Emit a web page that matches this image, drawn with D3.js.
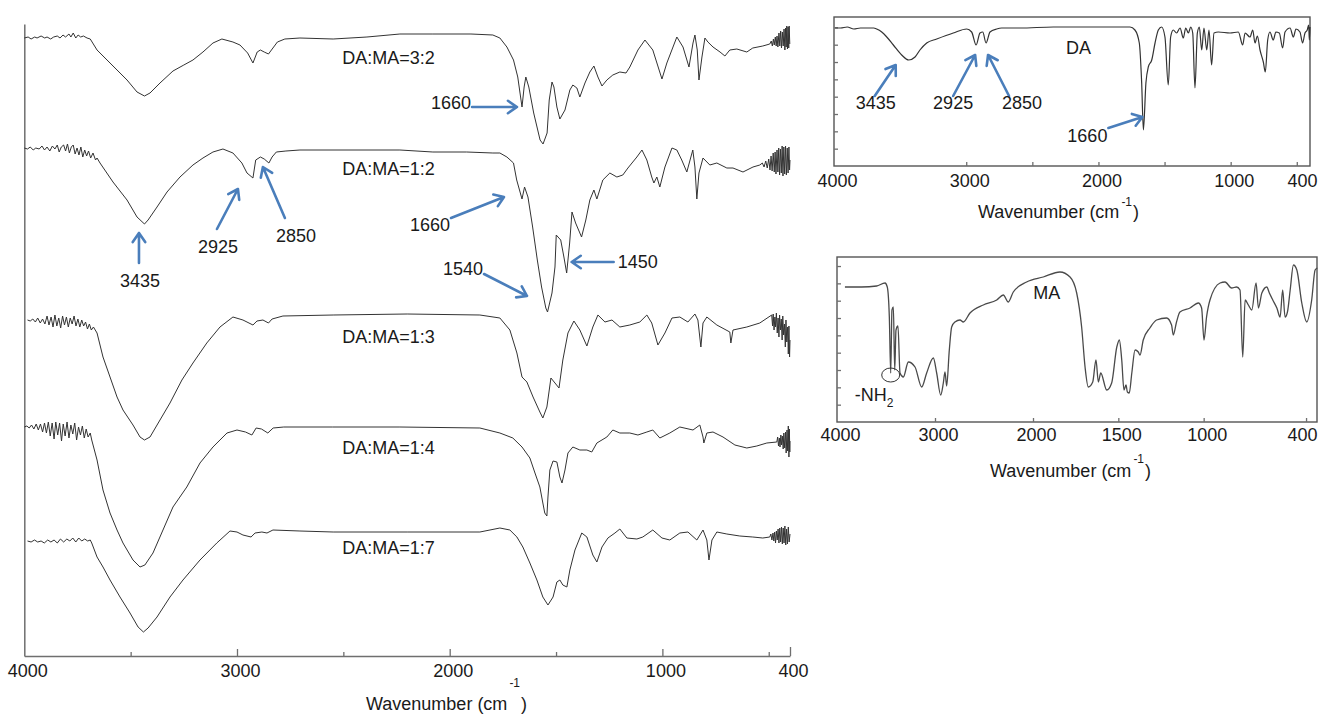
<!DOCTYPE html>
<html>
<head>
<meta charset="utf-8">
<script src="https://cdn.jsdelivr.net/npm/d3@7"></script>
<style>
  body { margin: 0; background: #fff; }
  svg { display: block; }
  text { font-family: "Liberation Sans", Arial, sans-serif; }
</style>
</head>
<body>
<svg id="chart" width="1318" height="714"></svg>
<script>
// ---------------- data: FTIR spectra, [wavenumber (cm-1), transmittance (a.u., stacked)] ----------------
const seriesNames = ["DA:MA=3:2", "DA:MA=1:2", "DA:MA=1:3", "DA:MA=1:4", "DA:MA=1:7"];

const ratio32 = [[4000,61.8],[3982,61.9],[3968,61.7],[3951,61.9],[3940,61.8],[3921,62.0],[3904,61.8],[3893,61.9],[3876,61.7],[3862,61.9],[3845,62.0],[3832,61.8],[3818,62.1],[3806,61.9],[3790,62.2],[3781,61.9],[3770,62.3],[3758,61.8],[3747,62.1],[3735,61.9],[3722,62.0],[3705,61.8],[3690,61.7],[3658,60.6],[3597,59.3],[3517,57.6],[3470,56.4],[3435,56.0],[3409,56.3],[3362,57.3],[3301,58.5],[3250,59.1],[3207,59.6],[3160,60.4],[3113,61.3],[3071,61.7],[3019,61.4],[2986,61.1],[2950,60.3],[2925,59.3],[2905,60.4],[2890,60.6],[2872,60.4],[2852,60.2],[2838,60.6],[2810,61.4],[2775,61.7],[2704,61.8],[2548,61.7],[2389,61.9],[2234,62.2],[2079,62.2],[1900,62.2],[1797,62.1],[1764,61.8],[1731,60.9],[1700,59.6],[1680,57.9],[1660,54.9],[1650,56.9],[1642,57.9],[1628,56.9],[1605,54.3],[1575,51.6],[1561,51.2],[1542,52.3],[1532,55.6],[1519,57.4],[1510,56.9],[1496,54.9],[1482,53.7],[1458,54.6],[1435,56.6],[1421,57.1],[1402,56.8],[1388,55.9],[1364,57.3],[1341,58.4],[1322,59.0],[1303,57.9],[1284,57.0],[1261,57.6],[1233,58.1],[1200,58.4],[1171,58.3],[1153,58.9],[1115,60.6],[1082,61.6],[1045,60.6],[1002,57.7],[979,59.3],[932,61.9],[903,60.9],[875,58.9],[856,61.3],[847,62.1],[836,60.6],[828,57.6],[814,59.9],[800,61.8],[786,61.4],[762,60.9],[729,60.4],[706,60.0],[683,60.6],[650,60.7],[603,60.4],[575,60.8],[528,61.0],[495,61.2],[488,61.5],[483,61.0],[478,61.7],[474,61.1],[469,61.9],[465,61.0],[461,62.0],[457,60.9],[452,62.3],[448,61.0],[444,62.5],[440,60.8],[436,62.4],[432,61.0],[428,62.7],[424,60.6],[421,62.8],[418,60.9],[415,63.0],[412,60.7],[409,62.9],[406,60.8],[404,63.0],[401,61.2]];

const ratio12 = [[4000,50.8],[3985,50.7],[3972,50.9],[3958,50.6],[3946,50.8],[3930,50.7],[3917,51.0],[3905,50.6],[3893,50.9],[3880,50.5],[3868,51.0],[3856,50.7],[3845,51.1],[3836,50.4],[3826,50.9],[3815,51.1],[3806,50.5],[3797,51.2],[3788,50.3],[3779,50.9],[3770,51.1],[3761,50.2],[3752,50.8],[3743,50.1],[3734,50.9],[3725,49.9],[3716,50.6],[3707,50.0],[3698,50.5],[3688,49.8],[3677,50.3],[3665,49.6],[3658,49.8],[3644,49.3],[3583,47.4],[3517,45.6],[3470,43.9],[3435,43.2],[3418,43.6],[3376,44.9],[3329,46.4],[3268,47.9],[3207,49.1],[3160,49.8],[3113,50.4],[3066,50.7],[3019,50.3],[2977,49.3],[2953,48.3],[2925,47.8],[2912,49.6],[2890,49.9],[2872,49.7],[2850,49.3],[2835,49.9],[2815,50.4],[2770,50.5],[2704,50.6],[2234,50.6],[2079,50.4],[1920,50.4],[1797,50.3],[1764,50.3],[1731,49.9],[1700,49.3],[1685,47.6],[1660,45.7],[1648,46.9],[1632,45.9],[1610,42.9],[1588,39.6],[1568,36.9],[1548,34.8],[1540,34.4],[1519,36.3],[1505,38.9],[1499,42.1],[1478,41.6],[1463,39.9],[1450,38.3],[1436,41.3],[1425,44.4],[1408,43.3],[1380,41.9],[1360,43.6],[1341,45.6],[1322,46.6],[1308,45.7],[1280,47.6],[1247,48.3],[1214,47.9],[1186,48.1],[1162,48.8],[1120,49.9],[1096,50.6],[1073,49.6],[1050,47.9],[1040,47.3],[1026,47.9],[1012,46.9],[988,48.9],[955,50.8],[932,50.6],[909,49.6],[885,48.4],[866,49.9],[857,50.6],[847,48.9],[838,45.7],[828,48.3],[809,49.8],[777,49.1],[744,49.3],[697,48.8],[668,48.8],[621,48.4],[574,48.9],[542,49.1],[530,49.3],[522,48.9],[514,49.5],[507,48.8],[500,49.7],[494,48.6],[489,50.0],[484,48.5],[479,50.3],[474,48.4],[470,50.4],[466,48.2],[461,50.6],[457,48.4],[453,50.8],[449,48.1],[445,50.7],[441,48.3],[437,51.0],[433,48.0],[429,50.9],[425,48.2],[421,51.0],[417,48.1],[413,50.8],[409,48.3],[405,50.9],[402,48.6],[400,49.6]];

const ratio13 = [[3985,33.6],[3972,33.5],[3960,33.7],[3948,33.4],[3937,33.8],[3925,33.3],[3914,33.7],[3903,33.2],[3893,34.0],[3884,33.1],[3874,33.9],[3865,32.9],[3856,34.1],[3847,33.0],[3838,33.8],[3829,32.8],[3820,34.0],[3811,33.1],[3802,33.9],[3793,32.9],[3784,33.8],[3775,33.2],[3766,34.0],[3757,33.0],[3748,33.7],[3739,32.9],[3730,33.6],[3721,33.0],[3712,33.4],[3703,32.7],[3694,33.2],[3685,32.6],[3675,32.9],[3658,32.3],[3630,29.9],[3597,27.9],[3564,25.9],[3536,24.6],[3489,23.1],[3456,21.9],[3435,21.6],[3409,21.9],[3362,23.6],[3315,25.3],[3259,27.6],[3207,29.3],[3142,31.3],[3080,32.9],[3019,33.9],[2972,33.6],[2925,33.1],[2906,33.5],[2878,33.6],[2852,33.3],[2835,33.7],[2784,34.0],[2548,34.1],[2200,34.2],[1858,34.1],[1764,33.8],[1717,32.6],[1684,30.3],[1660,27.9],[1637,27.4],[1608,25.9],[1576,24.4],[1562,23.8],[1543,24.9],[1524,27.8],[1505,27.3],[1486,26.8],[1468,29.6],[1444,32.3],[1416,33.5],[1388,32.6],[1355,31.0],[1327,32.9],[1303,34.1],[1270,33.4],[1237,33.6],[1200,32.9],[1153,33.1],[1106,33.4],[1073,34.1],[1050,33.3],[1021,31.1],[988,32.3],[955,33.8],[918,33.9],[880,33.4],[847,34.2],[833,33.6],[819,30.9],[809,33.3],[791,33.9],[744,33.1],[683,32.4],[678,31.3],[668,32.6],[603,32.9],[542,33.3],[486,34.1],[482,33.0],[479,34.2],[475,32.6],[471,33.9],[468,32.9],[464,34.3],[460,32.3],[456,33.8],[452,31.9],[449,34.1],[445,32.6],[441,33.7],[437,31.6],[434,34.0],[430,32.1],[426,33.2],[422,30.9],[419,33.6],[415,31.4],[411,32.9],[408,30.2],[405,33.0],[402,29.9],[400,31.6]];

const ratio14 = [[4000,22.9],[3988,23.0],[3977,22.8],[3966,23.1],[3955,22.7],[3944,23.2],[3934,22.6],[3924,23.2],[3914,22.4],[3905,23.3],[3896,22.3],[3887,23.4],[3878,22.0],[3869,23.3],[3860,21.7],[3852,23.4],[3843,22.1],[3834,23.3],[3825,21.5],[3817,23.2],[3808,22.0],[3799,23.4],[3790,21.8],[3781,23.1],[3772,22.2],[3763,23.3],[3754,21.6],[3745,22.9],[3736,22.1],[3727,23.0],[3718,21.8],[3709,22.7],[3700,21.9],[3690,22.3],[3683,21.6],[3658,19.6],[3630,16.6],[3597,14.3],[3564,12.6],[3536,11.3],[3489,9.6],[3456,8.9],[3433,9.1],[3395,10.3],[3348,12.6],[3301,14.9],[3236,16.9],[3174,19.3],[3113,20.9],[3047,22.3],[3000,22.6],[2960,22.4],[2930,22.1],[2910,22.8],[2885,22.7],[2855,22.3],[2830,22.8],[2780,22.9],[2550,22.9],[2234,22.9],[1858,22.8],[1764,22.3],[1703,21.8],[1660,20.9],[1623,19.8],[1599,18.3],[1576,16.9],[1562,15.3],[1553,14.3],[1543,14.0],[1538,15.9],[1529,18.6],[1514,19.5],[1496,19.4],[1482,17.9],[1472,17.3],[1458,18.6],[1444,20.3],[1421,20.9],[1388,20.6],[1355,20.6],[1332,20.4],[1308,21.3],[1261,21.9],[1233,22.6],[1200,22.3],[1153,22.3],[1115,22.1],[1073,22.4],[1045,22.6],[1012,21.8],[965,22.3],[918,22.9],[856,22.6],[824,23.1],[809,21.9],[805,21.3],[791,22.3],[762,22.4],[715,21.9],[659,21.1],[603,20.8],[556,21.0],[509,21.3],[462,21.4],[458,21.9],[454,21.0],[450,21.8],[447,20.9],[443,22.1],[440,21.1],[436,22.0],[432,20.7],[429,22.3],[425,20.8],[421,22.4],[418,20.3],[414,22.6],[411,20.5],[408,23.0],[405,19.9],[403,22.7],[401,20.4],[400,21.5]];

const ratio17 = [[3985,11.5],[3968,11.4],[3952,11.6],[3937,11.4],[3921,11.5],[3906,11.3],[3890,11.6],[3875,11.4],[3860,11.6],[3845,11.3],[3830,11.7],[3815,11.4],[3800,11.7],[3786,11.5],[3772,11.8],[3758,11.4],[3744,11.8],[3730,11.5],[3716,11.7],[3702,11.5],[3690,11.6],[3683,11.3],[3658,9.9],[3630,8.9],[3597,7.6],[3550,5.9],[3503,4.3],[3465,2.9],[3440,2.4],[3418,2.8],[3376,3.9],[3315,5.9],[3254,7.6],[3174,9.6],[3095,11.3],[3033,12.5],[3000,12.4],[2972,12.1],[2934,11.9],[2915,12.3],[2883,12.4],[2859,12.3],[2831,12.6],[2704,12.5],[2548,12.4],[2200,12.4],[1858,12.4],[1764,12.8],[1717,12.6],[1684,11.9],[1656,10.9],[1623,9.3],[1590,7.6],[1562,5.9],[1538,5.1],[1514,5.9],[1496,7.4],[1482,7.6],[1468,7.1],[1449,6.9],[1435,8.6],[1411,10.6],[1379,12.3],[1355,11.9],[1327,10.1],[1308,9.4],[1284,10.9],[1256,11.8],[1223,12.3],[1200,12.7],[1167,11.8],[1120,11.7],[1092,11.9],[1045,12.6],[1002,11.8],[965,11.6],[918,12.3],[880,12.4],[838,11.6],[809,12.6],[791,11.6],[781,9.6],[767,11.6],[744,12.4],[697,12.2],[636,12.0],[575,11.9],[528,11.8],[495,11.9],[490,12.2],[485,11.6],[480,12.3],[476,11.5],[472,12.4],[468,11.3],[464,12.5],[460,11.6],[456,12.7],[452,11.3],[448,12.8],[444,11.4],[440,12.9],[436,11.2],[432,12.8],[428,11.3],[424,13.0],[420,11.1],[416,12.7],[412,11.2],[408,12.9],[404,11.4],[400,12.2]];

const spectrumDA = [[3992,13.8],[3950,13.8],[3900,13.9],[3850,13.7],[3800,13.8],[3750,13.8],[3700,13.8],[3677,13.7],[3639,13.4],[3601,12.9],[3551,12.1],[3488,11.1],[3435,10.6],[3387,10.9],[3350,11.6],[3299,12.3],[3223,12.7],[3098,13.3],[2996,13.7],[2959,13.4],[2925,12.1],[2896,13.3],[2875,13.4],[2850,12.3],[2820,13.4],[2770,13.7],[2732,13.8],[2593,13.8],[2341,13.9],[2089,13.9],[1761,13.9],[1724,13.6],[1691,12.3],[1673,8.3],[1660,3.6],[1641,8.3],[1623,9.9],[1597,10.6],[1572,12.3],[1547,13.6],[1522,13.9],[1497,12.9],[1472,8.1],[1454,12.9],[1434,13.6],[1409,13.3],[1383,13.8],[1358,12.8],[1340,13.8],[1320,13.3],[1302,13.9],[1287,13.3],[1270,7.8],[1252,13.3],[1237,13.9],[1219,11.6],[1202,13.8],[1181,11.6],[1164,13.6],[1144,10.1],[1126,13.3],[1093,13.4],[1005,13.3],[942,13.4],[909,12.1],[891,13.3],[854,12.9],[833,13.6],[816,12.3],[798,13.0],[778,11.6],[753,10.4],[738,9.4],[720,12.6],[703,13.4],[678,12.6],[658,13.4],[632,13.3],[607,11.8],[589,13.4],[551,13.8],[526,12.9],[506,13.7],[476,13.4],[456,12.3],[438,13.3],[421,13.6],[410,14.1],[405,12.6],[400,13.9]];

const spectrumMA = [[3919,13.5],[3750,13.5],[3595,13.6],[3510,13.9],[3487,13.5],[3466,10.5],[3452,4.9],[3439,11.2],[3425,11.5],[3411,5.2],[3398,9.2],[3378,9.6],[3357,4.9],[3323,4.5],[3272,6.0],[3204,5.5],[3136,3.5],[3085,4.9],[3017,6.4],[2983,4.9],[2942,2.7],[2915,3.9],[2898,5.0],[2881,3.6],[2854,7.2],[2830,9.5],[2796,10.0],[2745,10.2],[2711,10.0],[2643,10.9],[2507,11.7],[2370,12.2],[2303,12.7],[2252,12.0],[2201,13.0],[2065,14.0],[1940,14.5],[1842,15.0],[1783,14.5],[1744,12.9],[1715,9.5],[1695,5.5],[1676,3.5],[1650,4.0],[1631,6.2],[1617,4.0],[1603,4.9],[1568,3.2],[1539,3.9],[1509,7.5],[1494,8.2],[1480,6.2],[1467,3.2],[1455,3.7],[1447,3.0],[1436,2.9],[1421,4.9],[1402,7.2],[1383,7.0],[1373,6.7],[1354,8.2],[1315,9.4],[1276,10.2],[1217,10.4],[1188,9.7],[1178,8.7],[1159,10.0],[1139,11.0],[1080,11.4],[1031,11.9],[1012,11.4],[998,8.2],[983,10.5],[963,12.2],[904,13.9],[875,14.0],[836,13.4],[807,13.5],[787,13.2],[771,6.5],[757,12.2],[738,11.7],[718,11.2],[693,13.9],[679,11.4],[659,12.9],[630,13.5],[615,12.9],[595,12.2],[571,11.4],[552,10.5],[537,13.2],[523,10.5],[509,11.0],[493,13.2],[474,15.7],[454,15.2],[425,11.9],[396,10.0],[367,12.2],[347,15.2],[334,15.4]];

// axis ticks (cm-1)
const mainTickLabels = [4000, 3000, 2000, 1000, 400];
const mainMajorTicks = [3000, 2000, 1000];
const mainMinorTicks = [3500, 2500, 1500, 500];
const daTickLabels = [4000, 3000, 2000, 1000, 400];
const daTickMarks = [3000, 2500, 2000, 1500, 1000, 500];
const maTickLabels = [4000, 3000, 2000, 1500, 1000, 400];
const maTickMarks = [3000, 2000, 1500, 1000, 400];

// peak assignments (cm-1) and the spectrum each one points to
const mainPeakSeries = ["DA:MA=3:2", "DA:MA=1:2", "DA:MA=1:2", "DA:MA=1:2", "DA:MA=1:2", "DA:MA=1:2", "DA:MA=1:2"];
const mainPeakWavenumbers = [1660, 3435, 2925, 2850, 1660, 1540, 1450];
const daPeakWavenumbers = [3435, 2925, 2850, 1660];
const maGroupWavenumber = 3452;

// ---------------- drawing ----------------
const svg = d3.select("#chart");
const BLUE = "#4a7ebb";
const TEXT = "#1a1a1a";
const AXIS = "#6f6f6f";
const FONT = 18;

const spectra = [ratio32, ratio12, ratio13, ratio14, ratio17];

function valueAt(series, wn) {
  for (let i = 1; i < series.length; i++) {
    const [w0, v0] = series[i - 1], [w1, v1] = series[i];
    if (wn <= w0 && wn >= w1) return v0 + (v1 - v0) * (w0 - wn) / (w0 - w1);
  }
  return series[series.length - 1][1];
}

function arrow(g, tail, tip) {
  const a = Math.atan2(tip[1] - tail[1], tip[0] - tail[0]);
  const L = 11, s = 0.6;
  const p = d3.path();
  p.moveTo(tail[0], tail[1]); p.lineTo(tip[0], tip[1]);
  p.moveTo(tip[0] - L * Math.cos(a - s), tip[1] - L * Math.sin(a - s));
  p.lineTo(tip[0], tip[1]);
  p.lineTo(tip[0] - L * Math.cos(a + s), tip[1] - L * Math.sin(a + s));
  g.append("path").attr("d", p.toString())
    .attr("fill", "none").attr("stroke", BLUE).attr("stroke-width", 2.6)
    .attr("stroke-linecap", "round").attr("stroke-linejoin", "round");
}

function label(g, x, y, str, anchor) {
  return g.append("text").attr("x", x).attr("y", y).attr("text-anchor", anchor || "middle")
    .attr("font-size", FONT).attr("fill", TEXT).text(str);
}

function axisTitle(g, x, y, raise) {
  const t = g.append("text").attr("x", x).attr("y", y).attr("font-size", FONT).attr("fill", TEXT);
  t.append("tspan").text("Wavenumber (cm");
  t.append("tspan").attr("font-size", 12).attr("dx", 2).attr("dy", -raise).text("-1");
  t.append("tspan").attr("dx", 1).attr("dy", raise).text(")");
}

function styleAxis(sel) {
  sel.selectAll(".domain").attr("stroke", AXIS).attr("stroke-width", 1.5);
  sel.selectAll(".tick line").attr("stroke", AXIS).attr("stroke-width", 1.3);
  sel.selectAll(".tick text").attr("font-size", FONT).attr("fill", TEXT)
    .attr("font-family", "'Liberation Sans', Arial, sans-serif");
}

// keep the last label of a boxed panel inside the frame
function pinLastLabel(sel, value, dx) {
  sel.selectAll(".tick").filter(d => d === value).select("text")
    .attr("text-anchor", "end").attr("x", dx);
}

// ---- main stacked panel ----
const xMain = d3.scaleLinear().domain([4000, 400]).range([24.3, 790]);
const yMain = d3.scaleLinear().domain([0, 63.2]).range([656, 24]);
const gMain = svg.append("g");

gMain.append("g").attr("transform", "translate(24.3,0)")
  .call(d3.axisLeft(yMain).tickValues([]).tickSizeOuter(0)).call(styleAxis);
gMain.append("g").attr("transform", "translate(0,656)")
  .call(d3.axisBottom(xMain).tickValues(mainMinorTicks).tickSize(-4).tickFormat("").tickSizeOuter(0))
  .call(styleAxis);
gMain.append("g").attr("transform", "translate(0,656)")
  .call(d3.axisBottom(xMain).tickValues(mainMajorTicks).tickSize(-7).tickFormat("").tickSizeOuter(0))
  .call(s => s.select(".domain").remove()).call(styleAxis);
gMain.append("g").attr("transform", "translate(0,656)")
  .call(d3.axisBottom(xMain).tickValues([400]).tickSize(-9).tickFormat("").tickSizeOuter(0))
  .call(s => s.select(".domain").remove()).call(styleAxis);
gMain.append("g").attr("transform", "translate(3,656)")
  .call(d3.axisBottom(xMain).tickValues(mainTickLabels).tickSize(0).tickPadding(8).tickFormat(d3.format("d")))
  .call(s => s.select(".domain").remove()).call(styleAxis);

const lineMain = d3.line().x(d => xMain(d[0])).y(d => yMain(d[1]));
gMain.selectAll("path.spectrum").data(spectra).join("path")
  .attr("class", "spectrum").attr("d", lineMain)
  .attr("fill", "none").attr("stroke", "#333").attr("stroke-width", 1)
  .attr("stroke-linejoin", "round");

const seriesLabelDrop = [26, 25, 28, 27, 22];
seriesNames.forEach((name, i) => {
  label(gMain, xMain(2505), yMain(valueAt(spectra[i], 2505)) + seriesLabelDrop[i], name, "start");
});

// peak arrows: offsets of tail, tip and text from the band position
const mainArrowLayout = [
  { tip: [-5, 0],    tail: [-50, 0],   text: [-51, 2],   anchor: "end" },
  { tip: [-5.5, 9],  tail: [-5.5, 39], text: [-4.5, 63], anchor: "middle" },
  { tip: [-15, 11],  tail: [-36, 51],  text: [-35, 75],  anchor: "middle" },
  { tip: [-6, 4],    tail: [16, 55],   text: [27, 79],   anchor: "middle" },
  { tip: [-18, -2],  tail: [-71, 19],  text: [-72, 32],  anchor: "end" },
  { tip: [-20.5, -16], tail: [-63.5, -38], text: [-64.5, -37], anchor: "end" },
  { tip: [5, -11],   tail: [47, -11],  text: [51, -5],   anchor: "start" }
];
const gAnn = svg.append("g");
mainPeakWavenumbers.forEach((wn, i) => {
  const s = spectra[seriesNames.indexOf(mainPeakSeries[i])];
  const px = xMain(wn), py = yMain(valueAt(s, wn));
  const L = mainArrowLayout[i];
  arrow(gAnn, [px + L.tail[0], py + L.tail[1]], [px + L.tip[0], py + L.tip[1]]);
  label(gAnn, px + L.text[0], py + L.text[1], String(wn), L.anchor);
});

axisTitle(svg, 366, 710, 23);

// ---- DA panel ----
const xDA = d3.scaleLinear().domain([4000, 400]).range([834, 1310]);
const yDA = d3.scaleLinear().domain([0, 14.9]).range([166, 17]);
const gDA = svg.append("g");
gDA.append("rect").attr("x", 834).attr("y", 17).attr("width", 476).attr("height", 149)
  .attr("fill", "none").attr("stroke", "#555").attr("stroke-width", 1.4);
gDA.append("g").attr("transform", "translate(0,166)")
  .call(d3.axisBottom(xDA).tickValues(daTickMarks).tickSize(-4).tickFormat("").tickSizeOuter(0))
  .call(s => s.select(".domain").remove()).call(styleAxis);
gDA.append("g").attr("transform", "translate(3,166)")
  .call(d3.axisBottom(xDA).tickValues(daTickLabels).tickSize(0).tickPadding(8).tickFormat(d3.format("d")))
  .call(s => s.select(".domain").remove()).call(styleAxis)
  .call(s => pinLastLabel(s, 400, 4));
gDA.append("g").attr("transform", "translate(834,0)")
  .call(d3.axisLeft(yDA).tickValues(d3.range(1, 9).map(k => k * 1.733)).tickSize(-4).tickFormat("").tickSizeOuter(0))
  .call(s => s.select(".domain").remove()).call(styleAxis);

const lineDA = d3.line().x(d => xDA(d[0])).y(d => yDA(d[1])).curve(d3.curveMonotoneX);
gDA.append("path").datum(spectrumDA).attr("d", lineDA)
  .attr("fill", "none").attr("stroke", "#333").attr("stroke-width", 1.2);
label(gDA, xDA(2150), 54, "DA");

const daArrowLayout = [
  { tip: [-13, 5],  tail: [-34, 36], text: [-33, 49], anchor: "middle" },
  { tip: [-1, 10],  tail: [-23, 51], text: [-23, 64], anchor: "middle" },
  { tip: [2, 12],   tail: [23, 53],  text: [36, 66],  anchor: "middle" },
  { tip: [-1, -13], tail: [-35, -2], text: [-36, 12], anchor: "end" }
];
daPeakWavenumbers.forEach((wn, i) => {
  const px = xDA(wn), py = yDA(valueAt(spectrumDA, wn));
  const L = daArrowLayout[i];
  arrow(gDA, [px + L.tail[0], py + L.tail[1]], [px + L.tip[0], py + L.tip[1]]);
  label(gDA, px + L.text[0], py + L.text[1], String(wn), L.anchor);
});
axisTitle(svg, 978, 218, 12);

// ---- MA panel (scale changes at 2000 cm-1) ----
const xMA = d3.scaleLinear().domain([4000, 2000, 330]).range([837, 1033, 1318]);
const yMA = d3.scaleLinear().domain([0, 16.5]).range([422, 257]);
const gMA = svg.append("g");
gMA.append("rect").attr("x", 837).attr("y", 257).attr("width", 480).attr("height", 165)
  .attr("fill", "none").attr("stroke", "#555").attr("stroke-width", 1.4);
gMA.append("g").attr("transform", "translate(0,422)")
  .call(d3.axisBottom(xMA).tickValues(maTickMarks).tickSize(-4).tickFormat("").tickSizeOuter(0))
  .call(s => s.select(".domain").remove()).call(styleAxis);
gMA.append("g").attr("transform", "translate(3,422)")
  .call(d3.axisBottom(xMA).tickValues(maTickLabels).tickSize(0).tickPadding(6).tickFormat(d3.format("d")))
  .call(s => s.select(".domain").remove()).call(styleAxis)
  .call(s => pinLastLabel(s, 400, 8));
gMA.append("g").attr("transform", "translate(837,0)")
  .call(d3.axisLeft(yMA).tickValues(d3.range(1, 10).map(k => k * 1.733)).tickSize(-4).tickFormat("").tickSizeOuter(0))
  .call(s => s.select(".domain").remove()).call(styleAxis);

const lineMA = d3.line().x(d => xMA(d[0])).y(d => yMA(d[1])).curve(d3.curveMonotoneX);
gMA.append("path").datum(spectrumMA).attr("d", lineMA)
  .attr("fill", "none").attr("stroke", "#4a4a4a").attr("stroke-width", 1.3);
label(gMA, xMA(1920), 299, "MA");

// -NH2 stretching bands
const nhx = xMA(maGroupWavenumber), nhy = yMA(valueAt(spectrumMA, maGroupWavenumber));
gMA.append("ellipse").attr("cx", nhx).attr("cy", nhy + 2).attr("rx", 9).attr("ry", 7)
  .attr("fill", "none").attr("stroke", "#333").attr("stroke-width", 1);
const nh = gMA.append("text").attr("x", nhx - 36).attr("y", nhy + 28).attr("font-size", FONT).attr("fill", TEXT);
nh.append("tspan").text("-NH");
nh.append("tspan").attr("font-size", 12).attr("dy", 6).text("2");
axisTitle(svg, 990, 477, 14);
</script>
</body>
</html>
